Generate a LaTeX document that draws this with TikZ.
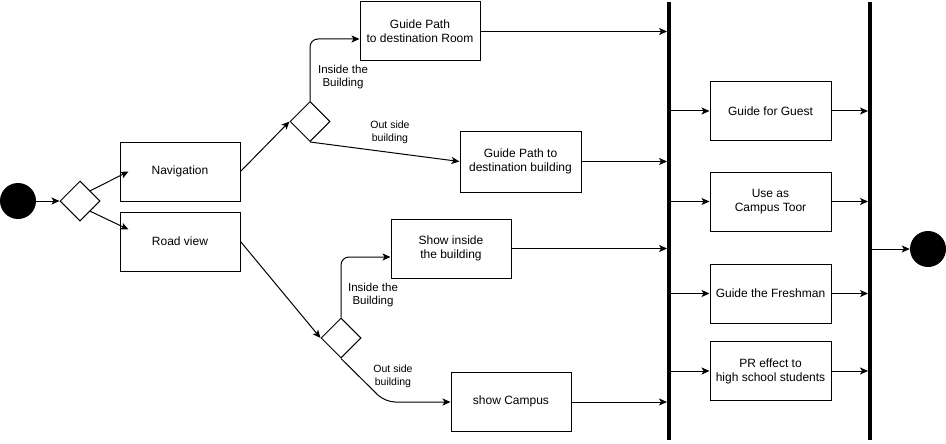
\documentclass[tikz,border=0pt]{standalone}
\usepackage{fontspec}
\setmainfont{Liberation Sans}
\usetikzlibrary{arrows.meta,shapes.geometric,calc}
\begin{document}
\begin{tikzpicture}[x=1pt,y=-1pt,
  box/.style={draw,line width=1pt,minimum width=120pt,minimum height=59pt,inner sep=0pt,align=center,font=\fontsize{12}{14}\selectfont},
  dec/.style={draw,line width=1pt,diamond,minimum width=40pt,minimum height=40pt,inner sep=0pt},
  disc/.style={circle,fill=black,minimum size=36pt,inner sep=0pt},
  bar/.style={fill=black,minimum width=3.5pt,minimum height=438pt,inner sep=0pt},
  arr/.style={line width=1pt,-{Stealth[length=8pt,width=7pt,inset=2pt]}},
  lbl/.style={align=center,inner sep=0pt,font=\fontsize{11.5}{13.5}\selectfont},
  slbl/.style={align=center,inner sep=0pt,font=\fontsize{10.5}{13}\selectfont}]
\useasboundingbox (0,0) rectangle (946,444);
% nodes
\node[disc] (start) at (18,201) {};
\node[dec] (d1) at (80,201) {};
\node[box] (nav) at (180,171.5) {Navigation};
\node[box] (road) at (180,241.5) {Road view};
\node[dec] (d2) at (310,121.5) {};
\node[dec] (d3) at (341,338) {};
\node[box] (room) at (420,31.5) {Guide Path\\to destination Room};
\node[box,minimum width=121pt,minimum height=61pt] (bldg) at (520.5,161.5) {Guide Path to\\destination building};
\node[box] (showin) at (451,248.5) {Show inside\\the building};
\node[box] (campus) at (511,401.5) {show Campus};
\node[bar] (bar1) at (669,221) {};
\node[bar] (bar2) at (870,221) {};
\node[box,minimum width=121pt] (guest) at (770.5,111) {Guide for Guest};
\node[box,minimum width=121pt] (toor) at (770.5,201.5) {Use as\\Campus Toor};
\node[box,minimum width=121pt] (fresh) at (770.5,293.5) {Guide the Freshman};
\node[box,minimum width=121pt] (pr) at (770.5,371) {PR effect to\\high school students};
\node[disc] (end) at (928,249) {};
% labels
\node[lbl] (l1) at (343,77) {Inside the\\Building};
\node[slbl] (l2) at (390,132) {Out side\\building};
\node[lbl] (l3) at (373,295) {Inside the\\Building};
\node[slbl] (l4) at (393,376) {Out side\\building};
% connectors
\draw[arr] (start) -- (d1.west);
\draw[arr] (d1.north east) -- ($(nav.west)+(9,0)$);
\draw[arr] (d1.south east) -- ($(road.north west)+(9,18)$);
\draw[arr] (nav.east) -- (d2.west);
\draw[arr,rounded corners=8pt] (d2.north) |- ($(room.west)+(0,7.5)$);
\draw[arr] (d2.south) -- (bldg.west);
\draw[arr] (road.east) -- (d3.west);
\draw[arr,rounded corners=8pt] (d3.north) |- ($(showin.west)+(0,8.5)$);
\draw[arr,rounded corners=10pt] (d3.south) -- (385,402) -- (campus.west |- 0,402);
\draw[arr] (room.east) -- (room.east -| bar1.west);
\draw[arr] (bldg.east) -- (bldg.east -| bar1.west);
\draw[arr] (showin.east) -- (showin.east -| bar1.west);
\draw[arr] (campus.east |- 0,402) -- (bar1.west |- 0,402);
\foreach \n in {guest,toor,fresh,pr}{
  \draw[arr] (bar1.east |- \n.west) -- (\n.west);
  \draw[arr] (\n.east) -- (\n.east -| bar2.west);
}
\draw[arr] (bar2.east |- end.west) -- (end.west);
\end{tikzpicture}
\end{document}
